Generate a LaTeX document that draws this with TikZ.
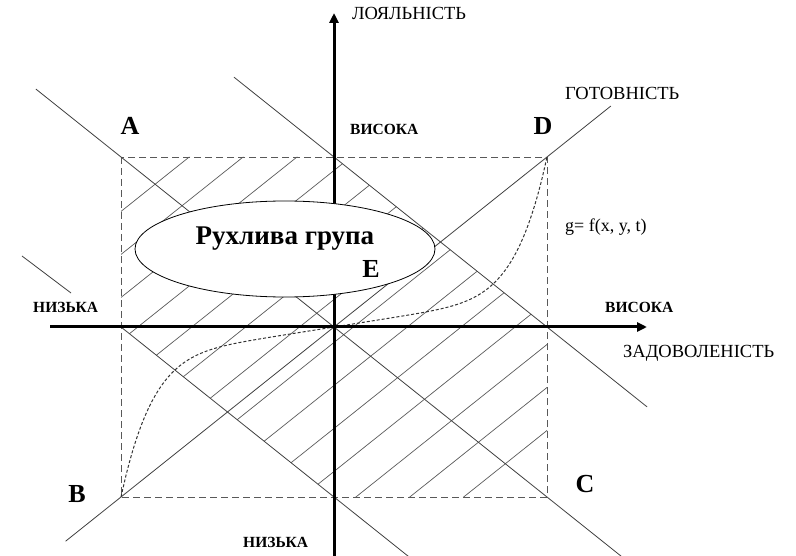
\documentclass[tikz,border=0pt]{standalone}
\usepackage{fontspec}
\setmainfont{Liberation Serif}
\usetikzlibrary{arrows.meta,calc,shapes.geometric}

\begin{document}
\begin{tikzpicture}[x=1pt,y=-1pt,
diag/.style={line width=.8pt,draw=black!75},
hatch/.style={line width=.7pt,draw=black!65},
frame/.style={line width=.9pt,draw=black!65,dash pattern=on 7pt off 4pt},
sfun/.style={line width=1pt,draw=black!80,dash pattern=on 3pt off 2pt},
axis/.style={line width=3pt,-{Triangle[length=10pt,width=9pt]}},
lbl/.style={inner sep=0pt,anchor=base west,font=\fontsize{18.5}{18.5}\selectfont},
lvl/.style={inner sep=0pt,anchor=base west,font=\fontsize{15.5}{15.5}\selectfont\bfseries},
pnt/.style={inner sep=0pt,anchor=base,font=\fontsize{26}{26}\selectfont\bfseries}]
\useasboundingbox (0,0) rectangle (796,556);
% corners and midpoints of the square
\coordinate (A) at (121,157); \coordinate (D) at (547,157);
\coordinate (B) at (121,497); \coordinate (C) at (547,497);
\coordinate (tm) at (334,157); \coordinate (rm) at (547,327);
\coordinate (bm) at (334,497); \coordinate (lm) at (121,327);
\coordinate (ybot) at (334,556); \coordinate (ytop) at (334,13);
\coordinate (xl) at (50,327); \coordinate (xr) at (647,327);
\coordinate (l3a) at (22,256); \coordinate (l3b) at (71,293);
% hatched zone
\begin{scope}
\clip (A)--(tm)--(rm)--(C)--(bm)--(lm)--cycle;
\foreach \c in {308,351,...,867}
  \draw[hatch] (100,{\c-0.798*100}) -- (570,{\c-0.798*570});
\end{scope}
\draw[frame] (A) rectangle (C);
\draw[diag] ($(A)!-0.2!(C)$) -- ($(A)!1.174!(C)$);
\draw[diag] ($(tm)!-0.47!(rm)$) -- ($(tm)!1.47!(rm)$);
\draw[diag] (l3a) -- (l3b);
\draw[diag] (lm) -- ($(lm)!1.35!(bm)$);
\draw[diag] ($(B)!-0.13!(D)$) -- ($(B)!1.15!(D)$);
\draw[sfun] plot[domain=-1:1,samples=80,smooth] ({334+213*\x},{327-170*(0.2*\x+0.8*\x*\x*\x*\x*\x*\x*\x)});
% axes
\draw[axis] (ybot) -- (ytop);
\draw[axis] (xl) -- (xr);
\node[draw,ellipse,fill=white,line width=.8pt,minimum width=300pt,minimum height=96pt,inner sep=0pt] (grp) at (285,249) {};
\node[inner sep=0pt,anchor=base,font=\fontsize{27}{27}\selectfont\bfseries] (grpname) at (285,245) {Рухлива група};
\node[pnt] (E) at (371,278) {E};
\node[pnt] (Alab) at (130,135) {A};
\node[pnt] (Dlab) at (543,135) {D};
\node[pnt] (Blab) at (77,502) {B};
\node[pnt] (Clab) at (585,492) {C};
\node[lbl] (loy) at (352,20) {ЛОЯЛЬНІСТЬ};
\node[lbl] (got) at (565,100) {ГОТОВНІСТЬ};
\node[lbl] (zad) at (623,358) {ЗАДОВОЛЕНІСТЬ};
\node[lbl,font=\fontsize{18}{18}\selectfont] (gf) at (565,232) {g= f(x, y, t)};
\node[lvl] (vtop) at (350,135) {ВИСОКА};
\node[lvl] (vright) at (605,313) {ВИСОКА};
\node[lvl] (nleft) at (33,313) {НИЗЬКА};
\node[lvl] (nbot) at (243,547) {НИЗЬКА};
\end{tikzpicture}
\end{document}
